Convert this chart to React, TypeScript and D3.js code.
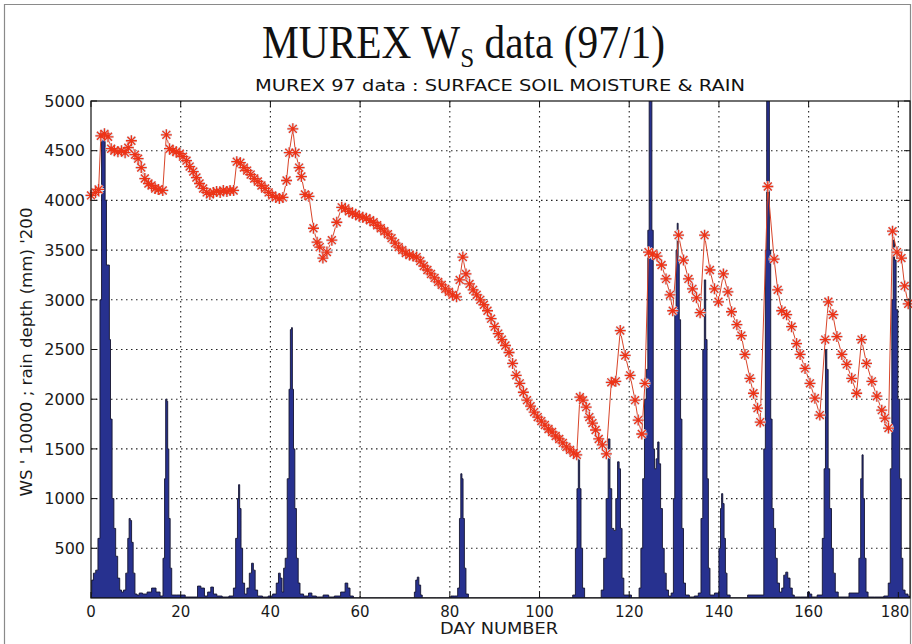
import React, { useEffect, useRef } from 'react';
import * as d3 from 'd3';

const W = 912, H = 644;
const margin = { left: 91, right: 2, top: 101, bottom: 46 };
const width = W - margin.left - margin.right,
    height = H - margin.top - margin.bottom;

const xTicks = [0, 20, 40, 60, 80, 100, 120, 140, 160, 180];
const yTicks = [500, 1000, 1500, 2000, 2500, 3000, 3500, 4000, 4500, 5000];

// surface soil moisture (WS*10000) : [day, value]
const soilMoisture: [number, number][] = [
    [0, 4050], [1, 4080], [1.7, 4110], [2.2, 4650], [3, 4670], [3.8, 4640], [4.5, 4520], [5.2, 4500],
    [6, 4490], [6.8, 4500], [7.6, 4480], [8.3, 4530], [9, 4600], [9.8, 4460], [10.5, 4420], [11.2, 4330],
    [12, 4220], [12.8, 4170], [13.5, 4150], [14.3, 4120], [15, 4110], [16, 4100], [16.8, 4660], [17.5, 4520],
    [18.3, 4500], [19, 4490], [19.8, 4470], [20.5, 4440], [21.3, 4400], [22, 4340], [22.8, 4290], [23.5, 4230],
    [24.2, 4170], [25, 4120], [25.8, 4080], [26.5, 4060], [27.3, 4080], [28, 4090], [28.8, 4080], [29.5, 4100],
    [30.3, 4090], [31, 4100], [31.8, 4100], [32.5, 4390], [33.3, 4380], [34.1, 4330], [34.8, 4300], [35.6, 4260],
    [36.4, 4220], [37.2, 4190], [38, 4150], [38.8, 4120], [39.6, 4080], [40.4, 4050], [41.2, 4030], [42, 4020],
    [42.8, 4030], [43.6, 4200], [44.2, 4480], [45, 4720], [45.6, 4480], [46.4, 4330], [46.9, 4240], [47.7, 4060],
    [48.6, 4040], [49.6, 3720], [50.4, 3580], [51, 3530], [51.7, 3420], [52.6, 3480], [53.7, 3600], [54.8, 3780],
    [55.9, 3930], [56.7, 3920], [57.5, 3890], [58.3, 3870], [59, 3860], [59.8, 3840], [60.6, 3830], [61.4, 3820],
    [62.2, 3800], [63, 3780], [63.8, 3750], [64.6, 3720], [65.4, 3690], [66.2, 3660], [67, 3620], [67.8, 3570],
    [68.6, 3530], [69.4, 3500], [70.2, 3470], [71, 3450], [71.8, 3440], [72.6, 3430], [73.4, 3390], [74.2, 3340],
    [75, 3300], [75.8, 3260], [76.6, 3220], [77.4, 3180], [78.2, 3150], [79, 3110], [79.8, 3080], [80.6, 3050],
    [81.5, 3030], [82.2, 3200], [82.9, 3430], [83.6, 3260], [84.4, 3160], [85.2, 3100], [86, 3050], [86.8, 3000],
    [87.6, 2950], [88.4, 2890], [89.2, 2810], [90, 2730], [90.8, 2660], [91.6, 2600], [92.4, 2540], [93.2, 2470],
    [94, 2360], [94.8, 2240], [95.6, 2160], [96.4, 2070], [97.2, 1990], [98, 1930], [98.8, 1870], [99.6, 1820],
    [100.4, 1780], [101.2, 1740], [102, 1700], [102.8, 1670], [103.6, 1630], [104.4, 1600], [105.2, 1560], [106, 1520],
    [106.8, 1490], [107.6, 1460], [108.3, 1440], [109, 2020], [109.7, 1990], [110.4, 1920], [111.1, 1820], [111.8, 1760],
    [112.5, 1690], [113.2, 1600], [114, 1540], [114.9, 1450], [116, 2170], [117, 2180], [118, 2690], [119.1, 2440],
    [120.2, 2240], [121.3, 1990], [122, 1790], [122.8, 1650], [123.5, 2160], [124.3, 3480], [125.2, 3460], [126.2, 3440],
    [127.2, 3350], [128.2, 3210], [129.1, 3050], [129.7, 2890], [131, 3650], [132.1, 3400], [133.2, 3210], [134.1, 3110],
    [135, 3020], [135.8, 2870], [136.8, 3650], [138, 3300], [139, 3110], [139.9, 2980], [141, 3260], [142, 3080],
    [142.8, 2880], [144, 2750], [145, 2640], [145.8, 2450], [146.9, 2210], [147.7, 2060], [148.6, 1910], [149.2, 1770],
    [150.9, 4140], [152.3, 3410], [153.1, 3100], [154, 2890], [155.1, 2850], [156.2, 2730], [157.3, 2560], [158.1, 2450],
    [159.2, 2310], [160.3, 2160], [161.4, 2010], [162.5, 1840], [163.7, 2600], [164.4, 2980], [165.4, 2850], [166.3, 2630],
    [167.4, 2450], [168.5, 2350], [169.6, 2210], [170.7, 2060], [171.8, 2600], [172.9, 2360], [174.1, 2180], [175.2, 2030],
    [176.3, 1890], [177, 1810], [177.8, 1710], [178.7, 3690], [179.7, 3480], [180.7, 3420], [181.4, 3140], [182.2, 2960]
];

// rain depth (mm*200) : [day, value]
const rainDepth: [number, number][] = [
    [0, 40], [0.3, 180], [0.8, 250], [1.3, 280], [1.8, 600], [2.2, 3000], [2.5, 4620], [3, 4650], [3.3, 4000],
    [3.6, 3350], [4, 3350], [4.2, 2600], [4.5, 1800], [4.9, 1000], [5.3, 700], [5.7, 420], [6.2, 200], [6.6, 80],
    [7, 60], [7.5, 80], [8, 250], [8.4, 600], [8.6, 800], [8.9, 780], [9.2, 560], [9.6, 250], [10, 40], [10.5, 30],
    [11, 50], [12, 40], [13, 60], [14, 100], [15, 60], [15.8, 20], [16.3, 400], [16.5, 1200], [16.8, 2000], [17, 1980],
    [17.2, 1500], [17.5, 800], [17.8, 300], [18.2, 30], [20, 30], [22, 10], [23.5, 10], [24, 120], [25, 100], [25.6, 20],
    [26.4, 60], [27, 110], [27.6, 40], [28.5, 20], [30, 10], [31.5, 20], [32, 100], [32.5, 600], [32.8, 1000], [33, 1140],
    [33.3, 900], [33.6, 500], [34, 150], [34.5, 40], [35, 100], [35.6, 250], [36, 350], [36.4, 280], [36.8, 80],
    [37.5, 20], [39, 10], [40, 20], [41, 40], [41.6, 150], [42, 250], [42.4, 200], [42.8, 60], [43.1, 300], [43.5, 400],
    [44, 1200], [44.3, 2100], [44.6, 2700], [44.8, 2720], [45, 2100], [45.3, 1500], [45.6, 900], [46, 400], [46.4, 150],
    [46.8, 40], [48, 20], [49, 50], [49.5, 20], [51, 10], [52.5, 30], [53.5, 10], [55, 20], [56.3, 60], [57, 150],
    [57.5, 100], [58, 20], [59, 0], [72, 0], [72.2, 60], [72.6, 180], [72.9, 210], [73.3, 130], [73.7, 30], [74, 0],
    [80, 0], [80.5, 20], [81.5, 20], [82, 100], [82.3, 800], [82.6, 1250], [82.8, 1200], [83.1, 800], [83.4, 300],
    [83.8, 40], [84.5, 0], [107, 0], [107.8, 30], [108.2, 500], [108.5, 1100], [108.8, 1450], [109.1, 1100], [109.4, 500],
    [109.8, 100], [110.3, 0], [113.5, 0], [114, 80], [114.6, 400], [115.1, 1000], [115.5, 1600], [115.9, 1100],
    [116.3, 700], [116.8, 680], [117.2, 1000], [117.6, 1370], [117.9, 1300], [118.2, 700], [118.6, 200], [119, 30],
    [122, 0], [122.4, 100], [122.8, 500], [123.2, 1200], [123.6, 2000], [124, 2300], [124.3, 3700], [124.6, 5200],
    [124.9, 5200], [125.2, 3700], [125.5, 1500], [125.8, 1300], [126.2, 1400], [126.5, 1570], [126.8, 1350], [127.2, 900],
    [127.6, 500], [128, 250], [128.5, 80], [129, 20], [129.7, 50], [130, 1000], [130.3, 2900], [130.6, 3500], [130.8, 3770],
    [131, 3400], [131.3, 2800], [131.6, 1800], [131.9, 700], [132.3, 150], [132.8, 30], [134, 10], [135, 20], [135.8, 50],
    [136.2, 800], [136.6, 2500], [136.9, 3200], [137.2, 2600], [137.5, 1200], [137.8, 300], [138.2, 30], [139.8, 50],
    [140.2, 500], [140.5, 900], [140.7, 1050], [141, 950], [141.3, 600], [141.6, 250], [142, 30], [143, 0], [149.8, 30],
    [150.2, 1500], [150.5, 3500], [150.8, 5200], [151.1, 5200], [151.4, 3500], [151.7, 1800], [152, 900], [152.4, 700],
    [152.8, 400], [153.2, 150], [153.8, 60], [154.2, 100], [154.7, 230], [155.1, 260], [155.6, 200], [156.1, 100],
    [156.6, 30], [157, 10], [159.5, 10], [160, 60], [160.4, 40], [161, 10], [162.8, 30], [163.3, 600], [163.6, 1300],
    [163.9, 2500], [164.2, 2300], [164.5, 1300], [164.9, 900], [165.3, 500], [165.7, 250], [166.2, 60], [167, 10],
    [171, 50], [171.4, 400], [171.8, 1200], [172, 1440], [172.3, 1000], [172.6, 400], [173, 60], [173.5, 10], [176, 10],
    [177.5, 20], [178, 150], [178.4, 1300], [178.7, 3000], [179, 3600], [179.3, 3400], [179.7, 2900], [180.1, 2000],
    [180.5, 1200], [180.8, 400], [181.2, 80], [181.8, 40], [182.5, 20]
];

const TICK_FONT = '"DejaVu Sans", sans-serif';

// MATLAB-ish '*' marker
function asterisk(r: number) {
    const d = r * 0.72;
    return `M${-r},0L${r},0M0,${-r}L0,${r}M${-d},${-d}L${d},${d}M${-d},${d}L${d},${-d}`;
}

export default function App() {
    const ref = useRef<SVGSVGElement>(null);

    useEffect(() => {
        const svg = d3.select(ref.current);
        svg.selectAll('*').remove();

        const x = d3.scaleLinear().domain([0, 182.6]).range([0, width]);
        const y = d3.scaleLinear().domain([0, 5000]).range([height, 0]);

        svg.append('rect').attr('width', W).attr('height', H).attr('fill', '#fff');
        // outer frame
        svg.append('path')
            .attr('d', `M4.5,${H}V4.5H910.5V${H}`)
            .attr('fill', 'none').attr('stroke', '#8a8a8a').attr('stroke-width', 1.2);

        // title
        const title = svg.append('text')
            .attr('x', 262).attr('y', 58)
            .attr('font-family', '"Liberation Serif", "Times New Roman", serif')
            .attr('font-size', 46)
            .attr('fill', '#111')
            .attr('textLength', 403)
            .attr('lengthAdjust', 'spacingAndGlyphs');
        title.append('tspan').text('MUREX W');
        title.append('tspan').attr('font-size', 28).attr('dy', 9).text('S');
        title.append('tspan').attr('dy', -9).text(' data (97/1)');

        svg.append('text')
            .attr('x', 255).attr('y', 91)
            .attr('font-family', TICK_FONT)
            .attr('font-size', 16)
            .attr('fill', '#111')
            .attr('textLength', 490)
            .attr('lengthAdjust', 'spacingAndGlyphs')
            .text('MUREX 97 data : SURFACE SOIL MOISTURE & RAIN');

        const g = svg.append('g').attr('transform', `translate(${margin.left},${margin.top})`);

        svg.append('defs').append('clipPath').attr('id', 'plotclip')
            .append('rect').attr('width', width).attr('height', height);

        // grid
        g.selectAll('.hgrid')
            .data(yTicks.filter(d => d < 5000))
            .enter().append('line')
            .attr('x1', 0).attr('x2', width)
            .attr('y1', d => y(d)).attr('y2', d => y(d))
            .attr('stroke', '#222').attr('stroke-width', 1.1)
            .attr('stroke-dasharray', '1.5,3.5');
        g.selectAll('.vgrid')
            .data(xTicks.filter(d => d > 0))
            .enter().append('line')
            .attr('x1', d => x(d)).attr('x2', d => x(d))
            .attr('y1', 0).attr('y2', height)
            .attr('stroke', '#222').attr('stroke-width', 1.1)
            .attr('stroke-dasharray', '1.5,3.5');

        // rain
        const area = d3.area<[number, number]>()
            .x(d => x(d[0]))
            .y0(height)
            .y1(d => y(d[1]))
            .curve(d3.curveStep);
        g.append('path')
            .datum(rainDepth)
            .attr('clip-path', 'url(#plotclip)')
            .attr('d', area)
            .attr('fill', '#27318f')
            .attr('stroke', '#151530')
            .attr('stroke-width', 0.9);

        // soil moisture
        const line = d3.line<[number, number]>()
            .x(d => x(d[0]))
            .y(d => y(d[1]));
        g.append('path')
            .datum(soilMoisture)
            .attr('d', line)
            .attr('fill', 'none')
            .attr('stroke', '#d8452a')
            .attr('stroke-width', 1);
        g.selectAll('.halo')
            .data(soilMoisture)
            .enter().append('path')
            .attr('transform', d => `translate(${x(d[0])},${y(d[1])})`)
            .attr('d', asterisk(5.5))
            .attr('fill', 'none')
            .attr('stroke', '#dfe3ec')
            .attr('stroke-width', 3);
        g.selectAll('.mark')
            .data(soilMoisture)
            .enter().append('path')
            .attr('transform', d => `translate(${x(d[0])},${y(d[1])})`)
            .attr('d', asterisk(5.5))
            .attr('fill', 'none')
            .attr('stroke', '#ec3418')
            .attr('stroke-width', 1.3);

        // box
        g.append('rect')
            .attr('width', width).attr('height', height)
            .attr('fill', 'none').attr('stroke', '#111').attr('stroke-width', 1.2);

        // ticks (inward, all sides)
        const tl = 6;
        yTicks.forEach(v => {
            g.append('line').attr('x1', 0).attr('x2', tl).attr('y1', y(v)).attr('y2', y(v)).attr('stroke', '#111');
            g.append('line').attr('x1', width - tl).attr('x2', width).attr('y1', y(v)).attr('y2', y(v)).attr('stroke', '#111');
        });
        xTicks.forEach(v => {
            g.append('line').attr('x1', x(v)).attr('x2', x(v)).attr('y1', height - tl).attr('y2', height).attr('stroke', '#111');
            g.append('line').attr('x1', x(v)).attr('x2', x(v)).attr('y1', 0).attr('y2', tl).attr('stroke', '#111');
        });

        // tick labels
        g.selectAll('.ylab')
            .data(yTicks)
            .enter().append('text')
            .attr('x', -6).attr('y', d => y(d))
            .attr('dy', '0.36em')
            .attr('text-anchor', 'end')
            .attr('font-family', TICK_FONT)
            .attr('font-size', 16)
            .attr('fill', '#1a1a1a')
            .text(d => d);
        g.selectAll('.xlab')
            .data(xTicks)
            .enter().append('text')
            .attr('x', d => Math.min(x(d), width - 15)).attr('y', height + 19)
            .attr('text-anchor', 'middle')
            .attr('font-family', TICK_FONT)
            .attr('font-size', 15)
            .attr('fill', '#1a1a1a')
            .text(d => d);

        // axis labels
        svg.append('text')
            .attr('x', 499).attr('y', 634)
            .attr('text-anchor', 'middle')
            .attr('font-family', TICK_FONT)
            .attr('font-size', 15)
            .attr('fill', '#1a1a1a')
            .attr('textLength', 118)
            .attr('lengthAdjust', 'spacingAndGlyphs')
            .text('DAY NUMBER');
        svg.append('text')
            .attr('transform', 'translate(32,352) rotate(-90)')
            .attr('text-anchor', 'middle')
            .attr('font-family', TICK_FONT)
            .attr('font-size', 15)
            .attr('fill', '#1a1a1a')
            .attr('textLength', 289)
            .attr('lengthAdjust', 'spacingAndGlyphs')
            .text("WS ' 10000 ; rain depth (mm) '200");
    }, []);

    return (
        <svg ref={ref} width={W} height={H}
            style={{ position: 'absolute', left: 0, top: 0, background: '#fff' }} />
    );
}
